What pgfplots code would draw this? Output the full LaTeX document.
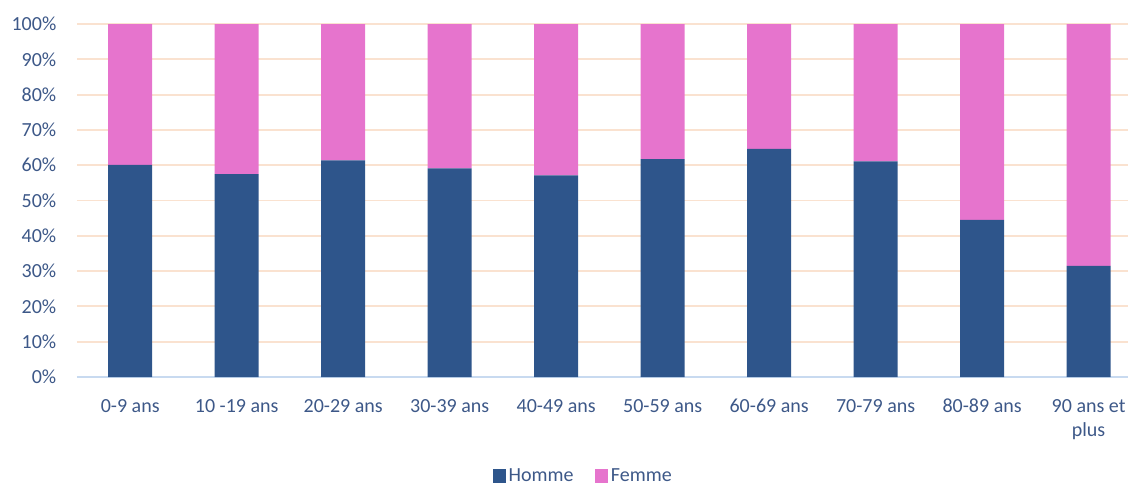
\documentclass[border=0pt]{standalone}
\usepackage{pgfplots}
\pgfplotsset{compat=1.18}
\usepackage{fontspec}
\setmainfont{Carlito}
\definecolor{homme}{RGB}{46,85,139}
\definecolor{femme}{RGB}{230,116,205}
\definecolor{gridc}{RGB}{250,226,208}
\definecolor{axc}{RGB}{200,218,240}
\definecolor{txt}{RGB}{61,88,136}
\begin{document}
\begin{tikzpicture}
\useasboundingbox (-57.75pt,-81.75pt) rectangle (788.25pt,282.75pt);
\begin{axis}[
  at={(0,0)}, anchor=south west,
  scale only axis,
  width=788.25pt, height=264.75pt,
  ybar stacked, bar width=33pt,
  xmin=-0.5, xmax=9.37,
  ymin=0, ymax=100,
  xtick={0,...,9},
  xticklabels={0-9 ans,10 -19 ans,20-29 ans,30-39 ans,40-49 ans,50-59 ans,60-69 ans,70-79 ans,80-89 ans,90 ans et\\plus},
  x tick label style={align=center, yshift=-13pt, text=txt},
  ytick={0,10,...,100},
  yticklabels={0\%,10\%,20\%,30\%,40\%,50\%,60\%,70\%,80\%,90\%,100\%},
  y tick label style={text=txt, xshift=-12pt},
  major tick length=0pt,
  ymajorgrids, grid style={gridc, line width=1.4pt},
  axis x line*=bottom, axis y line*=left,
  x axis line style={axc, line width=1.2pt, -},
  y axis line style={draw=none},
  font=\fontsize{15}{18}\selectfont,
  tick label style={font=\fontsize{15}{18}\selectfont},
  legend style={at={(0.482,-0.28)}, anchor=center, draw=none, fill=none, legend columns=2,
    font=\fontsize{15}{18}\selectfont, text=txt,
    /tikz/every even column/.append style={column sep=14pt}},
  legend image code/.code={\fill[#1] (0pt,-5pt) rectangle (10pt,5pt);},
]
\addplot[fill=homme, draw=none] coordinates {(0,60.1) (1,57.5) (2,61.4) (3,59.1) (4,57.1) (5,61.7) (6,64.6) (7,61.1) (8,44.5) (9,31.5)};
\addplot[fill=femme, draw=none] coordinates {(0,39.9) (1,42.5) (2,38.6) (3,40.9) (4,42.9) (5,38.3) (6,35.4) (7,38.9) (8,55.5) (9,68.5)};
\legend{Homme,Femme}
\end{axis}
\end{tikzpicture}
\end{document}
